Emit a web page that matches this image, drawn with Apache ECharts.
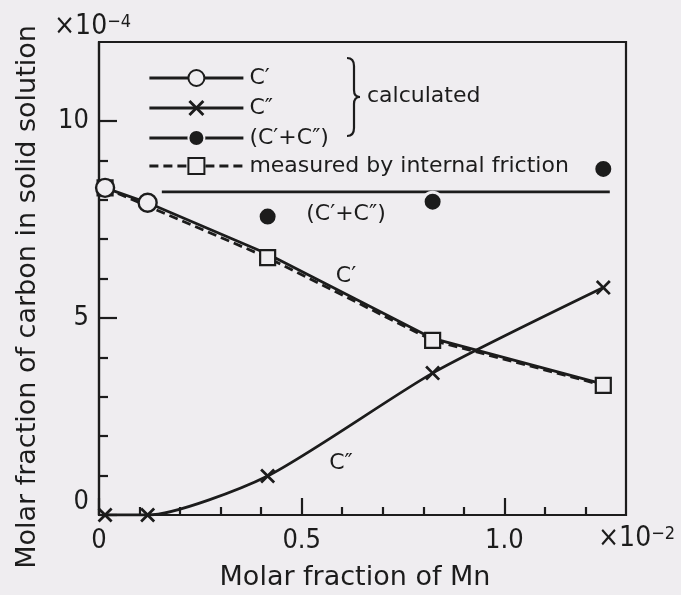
<!DOCTYPE html>
<html>
<head>
<meta charset="utf-8">
<script src="https://cdn.jsdelivr.net/npm/echarts@6/dist/echarts.min.js"></script>
<style>
  html, body { margin: 0; padding: 0; background: #efedf0; }
  #chart { width: 681px; height: 595px; }
</style>
</head>
<body>
<div id="chart"></div>
<script>
// Molar fraction of Mn (×10^-2) at the five compositions
const xMn = [0.015, 0.12, 0.416, 0.823, 1.244];
// Calculated C′ and C″ (×10^-4)
const cPrime = [8.3, 7.92, 6.62, 4.48, 3.32];
const cDouble = [0, 0, 0.99, 3.6, 5.77];
// Calculated sum (C′+C″) at the three higher compositions
const sumX = [0.416, 0.823, 1.244];
const cSum = [7.57, 7.95, 8.78];
// Measured by internal friction
const measuredX = [0.015, 0.416, 0.823, 1.244];
const measured = [8.3, 6.53, 4.43, 3.29];
// Level line drawn for (C′+C″)
const sumLevelX = [0.155, 1.26];
const sumLevel = 8.2;
// Axis ticks
const xMajor = [0, 0.5, 1.0];
const xMinor = [0.1, 0.2, 0.3, 0.4, 0.6, 0.7, 0.8, 0.9, 1.1, 1.2];
const yMajor = [0, 5, 10];
const yMinor = [1, 2, 3, 4, 6, 7, 8, 9];

const INK = '#1c1c1c';
const PAPER = '#efedf0';
const TITLE_FONT = 'DejaVu Sans';
const NUM_FONT = '"Liberation Sans Narrow", "DejaVu Sans Condensed", sans-serif';
const LINE_W = 2.8;

// X-shaped marker as a filled polygon
const CROSS = 'path://M0,1.8L1.8,0L7,5.2L12.2,0L14,1.8L8.8,7L14,12.2L12.2,14L7,8.8L1.8,14L0,12.2L5.2,7Z';

const chart = echarts.init(document.getElementById('chart'), null, { renderer: 'canvas' });

const baseAxis = {
  min: 0,
  splitLine: { show: false },
  axisLine: { show: true, onZero: false, lineStyle: { color: INK, width: 2.2 } },
};

// brace pieces grouping the calculated entries
const braceStyle = { fill: 'none', stroke: INK, lineWidth: 2.2 };
const brace = [
  { type: 'bezierCurve', shape: { x1: 347, y1: 58, x2: 354, y2: 66, cpx1: 354, cpy1: 58 }, style: braceStyle },
  { type: 'line', shape: { x1: 354, y1: 66, x2: 354, y2: 90 }, style: braceStyle },
  { type: 'bezierCurve', shape: { x1: 354, y1: 90, x2: 360, y2: 97, cpx1: 354, cpy1: 97 }, style: braceStyle },
  { type: 'bezierCurve', shape: { x1: 360, y1: 97, x2: 354, y2: 104, cpx1: 354, cpy1: 97 }, style: braceStyle },
  { type: 'line', shape: { x1: 354, y1: 104, x2: 354, y2: 128 }, style: braceStyle },
  { type: 'bezierCurve', shape: { x1: 354, y1: 128, x2: 347, y2: 136, cpx1: 354, cpy1: 136 }, style: braceStyle }
];

const legendText = { color: INK, fontFamily: TITLE_FONT, fontSize: 22, lineHeight: 20, padding: [0, 0, 0, 1] };
const legendLine = { width: LINE_W, color: INK, opacity: 1 };

chart.setOption({
  backgroundColor: PAPER,
  animation: false,
  grid: {
    left: 99, top: 42, width: 527, height: 473,
    show: true, borderColor: INK, borderWidth: 2.2, backgroundColor: 'transparent'
  },
  xAxis: [
    Object.assign({}, baseAxis, {
      type: 'value', max: 1.3, position: 'bottom',
      axisTick: { show: true, inside: true, length: 17, customValues: xMajor, lineStyle: { color: INK, width: 2.2 } },
      axisLabel: {
        customValues: xMajor, margin: 12, color: INK,
        fontFamily: NUM_FONT, fontSize: 27,
        formatter: v => (v === 0 ? '0' : v.toFixed(1))
      }
    }),
    Object.assign({}, baseAxis, {
      type: 'value', max: 1.3, position: 'bottom', axisLine: { show: false },
      axisTick: { show: true, inside: true, length: 8, customValues: xMinor, lineStyle: { color: INK, width: 2.2 } },
      axisLabel: { show: false }
    })
  ],
  yAxis: [
    Object.assign({}, baseAxis, {
      type: 'value', max: 12, position: 'left',
      axisTick: { show: true, inside: true, length: 18, customValues: yMajor, lineStyle: { color: INK, width: 2.2 } },
      axisLabel: {
        customValues: yMajor, margin: 10, color: INK,
        fontFamily: NUM_FONT, fontSize: 27,
        verticalAlignMinLabel: 'bottom'
      }
    }),
    Object.assign({}, baseAxis, {
      type: 'value', max: 12, position: 'left', axisLine: { show: false },
      axisTick: { show: true, inside: true, length: 9, customValues: yMinor, lineStyle: { color: INK, width: 2.2 } },
      axisLabel: { show: false }
    })
  ],
  legend: [
    {
      orient: 'vertical', left: 143, top: 62,
      itemWidth: 94, itemHeight: 20, itemGap: 8,
      lineStyle: legendLine,
      data: [
        { name: 'C′' },
        { name: 'C″' },
        { name: '(C′+C″)', lineStyle: { opacity: 1, width: LINE_W, color: INK, type: 'solid' } }
      ],
      textStyle: legendText,
      selectedMode: false
    },
    {
      orient: 'vertical', left: 143, top: 150,
      itemWidth: 94, itemHeight: 20,
      lineStyle: legendLine,
      data: ['measured by internal friction'],
      textStyle: legendText,
      selectedMode: false
    }
  ],
  graphic: brace.concat([
    {
      type: 'text', x: 367, y: 96,
      style: { text: 'calculated', fill: INK, font: '22px "DejaVu Sans"', verticalAlign: 'middle' }
    },
    // exponent notes
    {
      type: 'text', x: 54, y: 27,
      style: {
        text: '{b|×10}{s|−4}', verticalAlign: 'middle', fill: INK,
        rich: {
          b: { fontFamily: NUM_FONT, fontSize: 28, fill: INK },
          s: { fontFamily: NUM_FONT, fontSize: 18, fill: INK, verticalAlign: 'top' }
        }
      }
    },
    {
      type: 'text', x: 598, y: 539,
      style: {
        text: '{b|×10}{s|−2}', verticalAlign: 'middle', fill: INK,
        rich: {
          b: { fontFamily: NUM_FONT, fontSize: 28, fill: INK },
          s: { fontFamily: NUM_FONT, fontSize: 18, fill: INK, verticalAlign: 'top' }
        }
      }
    },
    // axis titles
    {
      type: 'text', x: 355, y: 578,
      style: { text: 'Molar fraction of Mn', fill: INK, font: '27px "DejaVu Sans"', align: 'center', verticalAlign: 'middle' }
    },
    {
      type: 'text', x: 28, y: 297, rotation: Math.PI / 2,
      style: { text: 'Molar fraction of carbon in solid solution', fill: INK, font: '27px "DejaVu Sans"', align: 'center', verticalAlign: 'middle' }
    },
    // curve labels
    {
      type: 'text', x: 346, y: 214,
      style: { text: '(C′+C″)', fill: INK, font: '22px "DejaVu Sans"', align: 'center', verticalAlign: 'middle' }
    },
    {
      type: 'text', x: 346, y: 276,
      style: { text: 'C′', fill: INK, font: '22px "DejaVu Sans"', align: 'center', verticalAlign: 'middle' }
    },
    {
      type: 'text', x: 341, y: 463,
      style: { text: 'C″', fill: INK, font: '22px "DejaVu Sans"', align: 'center', verticalAlign: 'middle' }
    }
  ]),
  series: [
    {
      name: 'sum level', type: 'line', silent: true,
      data: sumLevelX.map(x => [x, sumLevel]),
      symbol: 'none',
      lineStyle: { color: INK, width: LINE_W }
    },
    {
      name: 'C″', type: 'line',
      data: xMn.map((x, i) => [x, cDouble[i]]),
      smooth: 0.22,
      symbol: CROSS, symbolSize: 15,
      itemStyle: { color: INK },
      lineStyle: { color: INK, width: LINE_W }
    },
    {
      name: 'measured by internal friction', type: 'line',
      data: measuredX.map((x, i) => [x, measured[i]]),
      symbol: 'rect', symbolSize: 15,
      itemStyle: { color: PAPER, borderColor: INK, borderWidth: 2.2 },
      lineStyle: { color: INK, width: LINE_W, type: [9, 5] }
    },
    {
      // the last three calculated points lie under the measured squares, so only the first two carry a circle
      name: 'C′', type: 'line',
      data: xMn.map((x, i) => (i < 2 ? [x, cPrime[i]] : { value: [x, cPrime[i]], symbol: 'none' })),
      symbol: 'circle', symbolSize: 18,
      itemStyle: { color: PAPER, borderColor: INK, borderWidth: 2.4 },
      lineStyle: { color: INK, width: LINE_W }
    },
    {
      name: '(C′+C″)', type: 'line',
      data: sumX.map((x, i) => [x, cSum[i]]),
      symbol: 'circle', symbolSize: 19,
      itemStyle: { color: INK, borderColor: PAPER, borderWidth: 3 },
      lineStyle: { opacity: 0, width: 0 }
    }
  ]
});
</script>
</body>
</html>
